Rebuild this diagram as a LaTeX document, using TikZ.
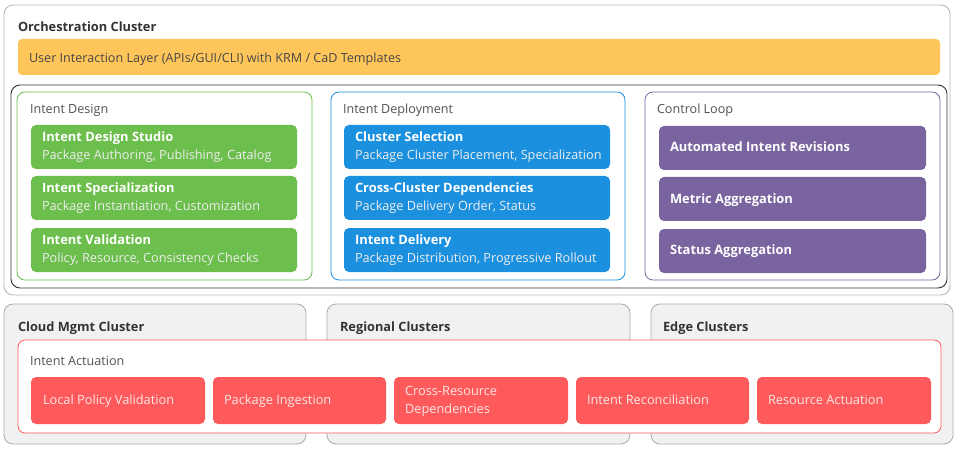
\documentclass[tikz,border=0pt]{standalone}
\usepackage{fontspec}
\setmainfont{Open Sans}
\begin{document}
\begin{tikzpicture}[x=1pt,y=-1pt,
  every node/.style={inner sep=0pt,outer sep=0pt},
  area/.style={draw,rounded corners=9pt,line width=0.9pt,anchor=north west},
  card/.style={rounded corners=5pt,anchor=north west},
  txt/.style={anchor=west,text height=9.4pt,text depth=3.1pt},
  ttl/.style={txt,yshift=-3pt,font=\fontsize{12.8}{15}\selectfont\bfseries,text=black!80},
  lbl/.style={txt,yshift=-2.3pt,font=\fontsize{12.6}{15}\selectfont,text=black!68},
  ct/.style={txt,yshift=-1.8pt,font=\fontsize{12.9}{15}\selectfont\bfseries,text=white},
  cs/.style={txt,yshift=-1.8pt,font=\fontsize{12.7}{15}\selectfont,text=white!86!gray},
  rt/.style={anchor=west,yshift=-1.6pt,font=\fontsize{12.8}{18}\selectfont,text=white!90!red,align=left}
]
\definecolor{cyellow}{HTML}{FEC65A}
\definecolor{cgreen}{HTML}{6CBF4C}
\definecolor{cblue}{HTML}{1B90DF}
\definecolor{cpurple}{HTML}{7964A0}
\definecolor{cred}{HTML}{FF5A5B}
\definecolor{cgray}{HTML}{F1F1F1}
\useasboundingbox (0,0) rectangle (957,454);
% Orchestration cluster
\node[area,draw=black!28,fill=white,minimum width=946pt,minimum height=290pt] (orch) at (4,5) {};
\node[ttl] (orcht) at (18,25) {Orchestration Cluster};
\node[card,fill=cyellow,rounded corners=4pt,minimum width=922pt,minimum height=36pt] (uil) at (18,39) {};
\node[lbl,text=black!72] (uilt) at (29,57) {User Interaction Layer (APIs/GUI/CLI) with KRM / CaD Templates};
\node[area,draw=black!80,minimum width=936pt,minimum height=203pt] (inner) at (11,85) {};
% Intent design
\node[area,draw=cgreen,line width=0.8pt,rounded corners=8pt,minimum width=295pt,minimum height=188pt] (design) at (17,92) {};
\node[lbl] (designt) at (30,108) {Intent Design};
\node[card,fill=cgreen,minimum width=266pt,minimum height=44pt] (g1) at (31,125) {};
\node[ct] (g1t) at (42,137) {Intent Design Studio};
\node[cs] (g1s) at (42,155) {Package Authoring, Publishing, Catalog};
\node[card,fill=cgreen,minimum width=266pt,minimum height=44pt] (g2) at (31,176) {};
\node[ct] (g2t) at (42,188) {Intent Specialization};
\node[cs] (g2s) at (42,206) {Package Instantiation, Customization};
\node[card,fill=cgreen,minimum width=266pt,minimum height=44pt] (g3) at (31,228) {};
\node[ct] (g3t) at (42,240) {Intent Validation};
\node[cs] (g3s) at (42,258) {Policy, Resource, Consistency Checks};
% Intent deployment
\node[area,draw=cblue,line width=0.8pt,rounded corners=8pt,minimum width=294pt,minimum height=188pt] (deploy) at (331,92) {};
\node[lbl] (deployt) at (343,108) {Intent Deployment};
\node[card,fill=cblue,minimum width=266pt,minimum height=44pt] (b1) at (344,125) {};
\node[ct] (b1t) at (355,137) {Cluster Selection};
\node[cs] (b1s) at (355,155) {Package Cluster Placement, Specialization};
\node[card,fill=cblue,minimum width=266pt,minimum height=44pt] (b2) at (344,176) {};
\node[ct] (b2t) at (355,188) {Cross-Cluster Dependencies};
\node[cs] (b2s) at (355,206) {Package Delivery Order, Status};
\node[card,fill=cblue,minimum width=266pt,minimum height=44pt] (b3) at (344,228) {};
\node[ct] (b3t) at (355,240) {Intent Delivery};
\node[cs] (b3s) at (355,258) {Package Distribution, Progressive Rollout};
% Control loop
\node[area,draw=cpurple,line width=0.8pt,rounded corners=8pt,minimum width=295pt,minimum height=188pt] (loop) at (645,92) {};
\node[lbl] (loopt) at (657,108) {Control Loop};
\node[card,fill=cpurple,minimum width=267pt,minimum height=44pt] (p1) at (659,126) {};
\node[ct] (p1t) at (670,147) {Automated Intent Revisions};
\node[card,fill=cpurple,minimum width=267pt,minimum height=44pt] (p2) at (659,177) {};
\node[ct] (p2t) at (670,199) {Metric Aggregation};
\node[card,fill=cpurple,minimum width=267pt,minimum height=44pt] (p3) at (659,229) {};
\node[ct] (p3t) at (670,250) {Status Aggregation};
% Bottom clusters
\node[area,draw=black!33,fill=cgray,line width=0.8pt,minimum width=302pt,minimum height=140pt] (cloud) at (4,304) {};
\node[ttl] (cloudt) at (18,325) {Cloud Mgmt Cluster};
\node[area,draw=black!33,fill=cgray,line width=0.8pt,minimum width=303pt,minimum height=140pt] (regional) at (327,304) {};
\node[ttl] (regionalt) at (340,325) {Regional Clusters};
\node[area,draw=black!33,fill=cgray,line width=0.8pt,minimum width=302pt,minimum height=140pt] (edge) at (651,304) {};
\node[ttl] (edget) at (663,325) {Edge Clusters};
% Intent actuation
\node[area,draw=cred,fill=white,line width=0.8pt,rounded corners=7pt,minimum width=923pt,minimum height=93pt] (act) at (18,340) {};
\node[lbl] (actt) at (30,360) {Intent Actuation};
\node[card,fill=cred,minimum width=174pt,minimum height=47pt] (r1) at (31,377) {};
\node[rt,txt] (r1t) at (43,400) {Local Policy Validation};
\node[card,fill=cred,minimum width=173pt,minimum height=47pt] (r2) at (213,377) {};
\node[rt,txt] (r2t) at (224,400) {Package Ingestion};
\node[card,fill=cred,minimum width=174pt,minimum height=47pt] (r3) at (394,377) {};
\node[rt] (r3t) at (405,400) {Cross-Resource\\Dependencies};
\node[card,fill=cred,minimum width=173pt,minimum height=47pt] (r4) at (576,377) {};
\node[rt,txt] (r4t) at (587,400) {Intent Reconciliation};
\node[card,fill=cred,minimum width=174pt,minimum height=47pt] (r5) at (757,377) {};
\node[rt,txt] (r5t) at (768,400) {Resource Actuation};
\end{tikzpicture}
\end{document}
